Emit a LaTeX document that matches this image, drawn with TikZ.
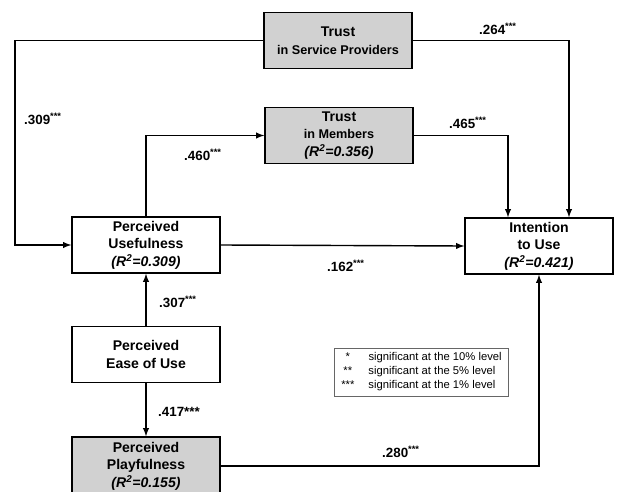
\documentclass[tikz,border=0pt]{standalone}
\usepackage{fontspec}
\setmainfont{Liberation Sans}
\usetikzlibrary{calc}

\begin{document}
\begin{tikzpicture}[x={(0.025cm,0cm)}, y={(0cm,-0.025cm)}, >=latex,
  box/.style={draw, line width=1pt, minimum width=3.7cm, minimum height=1.4cm,
    inner sep=0pt, align=center, font=\fontsize{10}{12.5}\selectfont\bfseries},
  shaded/.style={box, fill=black!18},
  link/.style={->, line width=1pt},
  coef/.style={inner sep=0pt, font=\fontsize{9.5}{11}\selectfont\bfseries}]

\useasboundingbox (0,0) rectangle (617,492);

% Constructs
\node[shaded] (tsp) at (338,40.5) {Trust\\{\fontsize{9}{11}\selectfont in Service Providers}};
\node[shaded] (tim) at (339,135.5) {Trust\\{\fontsize{9}{11}\selectfont in Members}\\\textit{(R\textsuperscript{2}=0.356)}};
\node[box] (pu) at (146,245) {Perceived\\Usefulness\\\textit{(R\textsuperscript{2}=0.309)}};
\node[box] (iu) at (539,246) {Intention\\to Use\\\textit{(R\textsuperscript{2}=0.421)}};
\node[box] (peou) at (146,354.5) {Perceived\\Ease of Use};
\node[shaded, minimum height=1.45cm] (pp) at (146,466) {Perceived\\Playfulness\\\textit{(R\textsuperscript{2}=0.155)}};

% Paths
\coordinate (lft) at (15,40);
\draw[link] (tsp.west) -- (tsp.west -| lft) |- (pu.west);
\draw[link] (tsp.east) -| ($(iu.north)+(30,0)$);
\draw[link] (pu.north) |- (tim.west);
\draw[link] (tim.east) -| ($(iu.north)+(-31,0)$);
\draw[link] (pu.east) -- (iu.west);
\draw[link] (peou.north) -- (pu.south);
\draw[link] (peou.south) -- (pp.north);
\draw[link] (pp.east) -| (iu.south);

% Coefficients
\node[coef] (c309) at (43,119) {.309\textsuperscript{***}};
\node[coef] (c264) at (498,29) {.264\textsuperscript{***}};
\node[coef] (c460) at (203,155) {.460\textsuperscript{***}};
\node[coef] (c465) at (468,123) {.465\textsuperscript{***}};
\node[coef] (c162) at (346,266) {.162\textsuperscript{***}};
\node[coef] (c307) at (178,302) {.307\textsuperscript{***}};
\node[coef] (c417) at (179,412) {.417***};
\node[coef] (c280) at (401,452) {.280\textsuperscript{***}};

% Legend
\node[draw=black!60, line width=0.6pt, minimum width=4.33cm, minimum height=1.2cm, inner sep=0pt,
  font=\fontsize{8}{10}\selectfont] (key) at (421.5,372)
  {\begin{tabular}{@{}c@{\hspace{10pt}}l@{}}
   {*} & significant at the 10\% level\\
   {**} & significant at the 5\% level\\
   {***} & significant at the 1\% level
   \end{tabular}};

\end{tikzpicture}
\end{document}
